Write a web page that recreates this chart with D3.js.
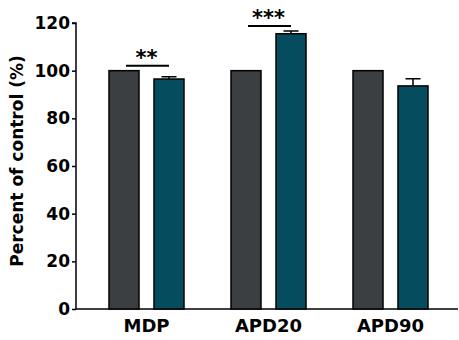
<!DOCTYPE html>
<html>
<head>
<meta charset="utf-8">
<script src="https://cdn.jsdelivr.net/npm/d3@7"></script>
<style>
  body { margin: 0; background: #fff; }
  text { font-family: "DejaVu Sans", sans-serif; font-weight: bold; fill: #000; }
</style>
</head>
<body>
<div id="chart"></div>
<script>
var categories = ["MDP", "APD20", "APD90"];
var groups = ["control", "treated"];
var controlValues = [100, 100, 100];
var treatedValues = [96.5, 115.5, 93.6];
var treatedErrors = [1.0, 1.1, 3.0];
var yTicks = [0, 20, 40, 60, 80, 100, 120];
var significance = [
  {cat: "MDP", label: "**"},
  {cat: "APD20", label: "***"}
];

var colors = {control: "#3b3f42", treated: "#054c5f"};

var data = categories.map(function(c, i) {
  return {
    cat: c,
    bars: [
      {group: "control", value: controlValues[i], err: 0},
      {group: "treated", value: treatedValues[i], err: treatedErrors[i]}
    ]
  };
});

var margin = {top: 23, right: 1, bottom: 31, left: 76},
  width = 459 - margin.left - margin.right,
  height = 340 - margin.top - margin.bottom;

var svg = d3.select("#chart").append("svg")
  .attr("width", 459)
  .attr("height", 340)
  .append("g")
  .attr("transform", "translate(" + margin.left + "," + margin.top + ")");

var x = d3.scaleBand()
  .domain(categories)
  .range([9.5, 375.5])
  .padding(0);

var x1 = d3.scaleBand()
  .domain(groups)
  .range([23.5, 98.5])
  .paddingInner(1 / 3)
  .paddingOuter(0);

var y = d3.scaleLinear()
  .domain([0, 120])
  .range([height, 0]);

// y axis
var yAxis = d3.axisLeft(y)
  .tickValues(yTicks)
  .tickSize(4)
  .tickPadding(2);

var gy = svg.append("g")
  .attr("class", "y axis")
  .call(yAxis);
gy.select(".domain").attr("stroke", "#000").attr("stroke-width", 1.5).attr("d", "M-4,0H0V" + height);
gy.selectAll(".tick line").attr("stroke", "#000").attr("stroke-width", 1.5);
gy.selectAll(".tick text").style("font-size", "17px");

// x axis
var xAxis = d3.axisBottom(x).tickSize(0).tickPadding(10);
var gx = svg.append("g")
  .attr("class", "x axis")
  .attr("transform", "translate(0," + height + ")")
  .call(xAxis);
gx.select(".domain").attr("stroke", "#000").attr("stroke-width", 1.5).attr("d", "M0,0H" + width);
gx.selectAll(".tick text").style("font-size", "18px");

// axis title
svg.append("text")
  .attr("transform", "rotate(-90)")
  .attr("x", -height / 2 + 5)
  .attr("y", -53)
  .style("text-anchor", "middle")
  .style("font-size", "17px")
  .text("Percent of control (%)");

// bars
var grp = svg.selectAll(".group")
  .data(data)
  .enter().append("g")
  .attr("class", "group")
  .attr("transform", function(d) { return "translate(" + x(d.cat) + ",0)"; });

// error bars (drawn behind bars)
grp.selectAll(".err")
  .data(function(d) { return d.bars.filter(function(b) { return b.err > 0; }); })
  .enter().append("path")
  .attr("class", "err")
  .attr("fill", "none")
  .attr("stroke", "#000")
  .attr("stroke-width", 1.5)
  .attr("d", function(b) {
    var cx = x1(b.group) + x1.bandwidth() / 2;
    var top = y(b.value + b.err);
    return "M" + cx + "," + y(b.value) + "V" + top + "M" + (cx - 7.5) + "," + top + "H" + (cx + 7.5);
  });

grp.selectAll(".bar")
  .data(function(d) { return d.bars; })
  .enter().append("rect")
  .attr("class", "bar")
  .attr("x", function(b) { return x1(b.group); })
  .attr("width", x1.bandwidth())
  .attr("y", function(b) { return y(b.value); })
  .attr("height", function(b) { return height - y(b.value); })
  .attr("fill", function(b) { return colors[b.group]; })
  .attr("stroke", "#000")
  .attr("stroke-width", 1.5);

// significance markers
function sigY(s) {
  var i = categories.indexOf(s.cat);
  return y(Math.max(controlValues[i], treatedValues[i] + treatedErrors[i])) - 5;
}

var sig = svg.selectAll(".sig")
  .data(significance)
  .enter().append("g")
  .attr("class", "sig");

sig.append("line")
  .attr("x1", function(s) { return x(s.cat) + x1("control") + x1.bandwidth() / 2 + 2; })
  .attr("x2", function(s) { return x(s.cat) + x1("treated") + x1.bandwidth() / 2; })
  .attr("y1", sigY)
  .attr("y2", sigY)
  .attr("stroke", "#000")
  .attr("stroke-width", 2);

sig.append("text")
  .attr("x", function(s) { return x(s.cat) + (x1("control") + x1("treated") + x1.bandwidth()) / 2; })
  .attr("y", function(s) { return sigY(s) - 1; })
  .style("text-anchor", "middle")
  .style("font-size", "21px")
  .text(function(s) { return s.label; });
</script>
</body>
</html>
